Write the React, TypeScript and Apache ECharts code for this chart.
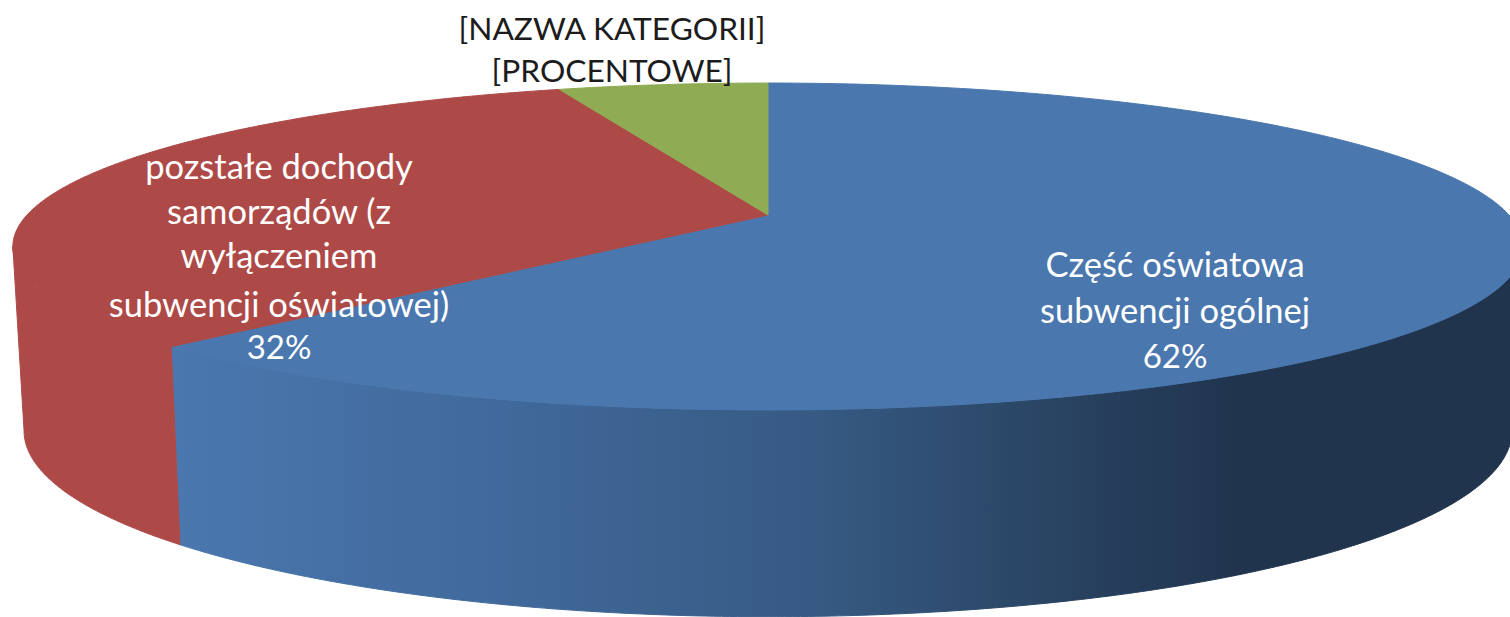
import React, { useEffect, useRef } from "react";
import * as echarts from "echarts";

const categories = ["Część oświatowa subwencji ogólnej", "pozstałe dochody samorządów (z wyłączeniem subwencji oświatowej)", "[NAZWA KATEGORII]"];
const sliceValues = [62.2, 32.4, 5.4];
const capColors = ["#4977ae", "#ad4a48", "#8fab54"];
const sideColors = ["", "#ad4a48", "#8fab54"];
const blueLabelLines = ["Część oświatowa", "subwencji ogólnej", "62%"];
const redLabelLines = ["pozstałe dochody", "samorządów (z", "wyłączeniem", "subwencji oświatowej)", "32%"];
const greenLabelLines = ["[NAZWA KATEGORII]", "[PROCENTOWE]"];

const K = 0.1927;
const TOP = { cx: 768, cy: 215, a: 741, b: 157.4 };
const BOTTOM = { cx: 768, cy: 395, a: 730, b: 179 };
const VISIBLE_FROM = 101;
const VISIBLE_TO = 259;

function project(deg: number, lvl: typeof TOP): number[] {
  const r = (deg * Math.PI) / 180;
  const u = Math.sin(r);
  const v = -Math.cos(r);
  const w = 1 - K * v;
  return [lvl.cx + (lvl.a * u) / w, lvl.cy + (lvl.b * v) / w];
}

function arc(from: number, to: number, lvl: typeof TOP): number[][] {
  const pts: number[][] = [];
  const n = Math.max(2, Math.ceil(Math.abs(to - from) * 2));
  for (let i = 0; i <= n; i++) pts.push(project(from + ((to - from) * i) / n, lvl));
  return pts;
}

function textEls(lines: string[], x: number, ys: number[], fill: string, size: number) {
  return lines.map((t, i) => ({
    type: "text",
    z: 20,
    silent: true,
    style: {
      text: t,
      x,
      y: ys[i],
      fill,
      font: `400 ${t.endsWith("%") ? 33 : size}px Lato, "Noto Sans", sans-serif`,
      textAlign: "center",
      textVerticalAlign: "middle",
    },
  }));
}

export default function App() {
  const ref = useRef<HTMLDivElement>(null);
  useEffect(() => {
    const chart = echarts.init(ref.current!, undefined, { renderer: "svg" });
    const total = sliceValues.reduce((s, v) => s + v, 0);
    const blueSide = new echarts.graphic.LinearGradient(
      181, 0, 1240, 0,
      [
        { offset: 0, color: "#4977ae" },
        { offset: 0.3, color: "#41699b" },
        { offset: 0.6, color: "#365a83" },
        { offset: 0.85, color: "#28415f" },
        { offset: 1, color: "#20344e" },
      ],
      true
    );
    chart.setOption({
      animation: false,
      backgroundColor: "#ffffff",
      series: [
        {
          type: "custom",
          coordinateSystem: "none",
          silent: true,
          data: sliceValues.map((v, i) => ({ name: categories[i], value: [i, v] })),
          renderItem: (params: any, api: any) => {
            const idx = params.dataIndex;
            const before = sliceValues.slice(0, idx).reduce((s, v) => s + v, 0);
            const a0 = (before / total) * 360;
            const a1 = ((before + api.value(1)) / total) * 360;
            const children: any[] = [];
            const s0 = Math.max(a0, VISIBLE_FROM);
            const s1 = Math.min(a1, VISIBLE_TO);
            if (s1 > s0) {
              const pts = [...arc(s0, s1, TOP), ...arc(s1, s0, BOTTOM)];
              const fill = idx === 0 ? blueSide : sideColors[idx];
              children.push({
                type: "polygon",
                shape: { points: pts },
                style: { fill, stroke: fill, lineWidth: 1 },
              });
            }
            children.push({
              type: "polygon",
              z2: 5,
              shape: { points: [project(0, { ...TOP, a: 0, b: 0 }), ...arc(a0, a1, TOP)] },
              style: { fill: capColors[idx], stroke: capColors[idx], lineWidth: 1 },
            });
            return { type: "group", children };
          },
        },
      ],
      graphic: [
        ...textEls(blueLabelLines, 1175, [263, 309, 355], "#ffffff", 34.5),
        ...textEls(redLabelLines, 279, [165, 210, 254, 303, 346], "#ffffff", 34.5),
        ...textEls(greenLabelLines, 612, [28, 70], "#1c1c1c", 31.7),
      ],
    });
    return () => chart.dispose();
  }, []);
  return <div ref={ref} style={{ position: "fixed", left: 0, top: 0, width: 1510, height: 617 }} />;
}
